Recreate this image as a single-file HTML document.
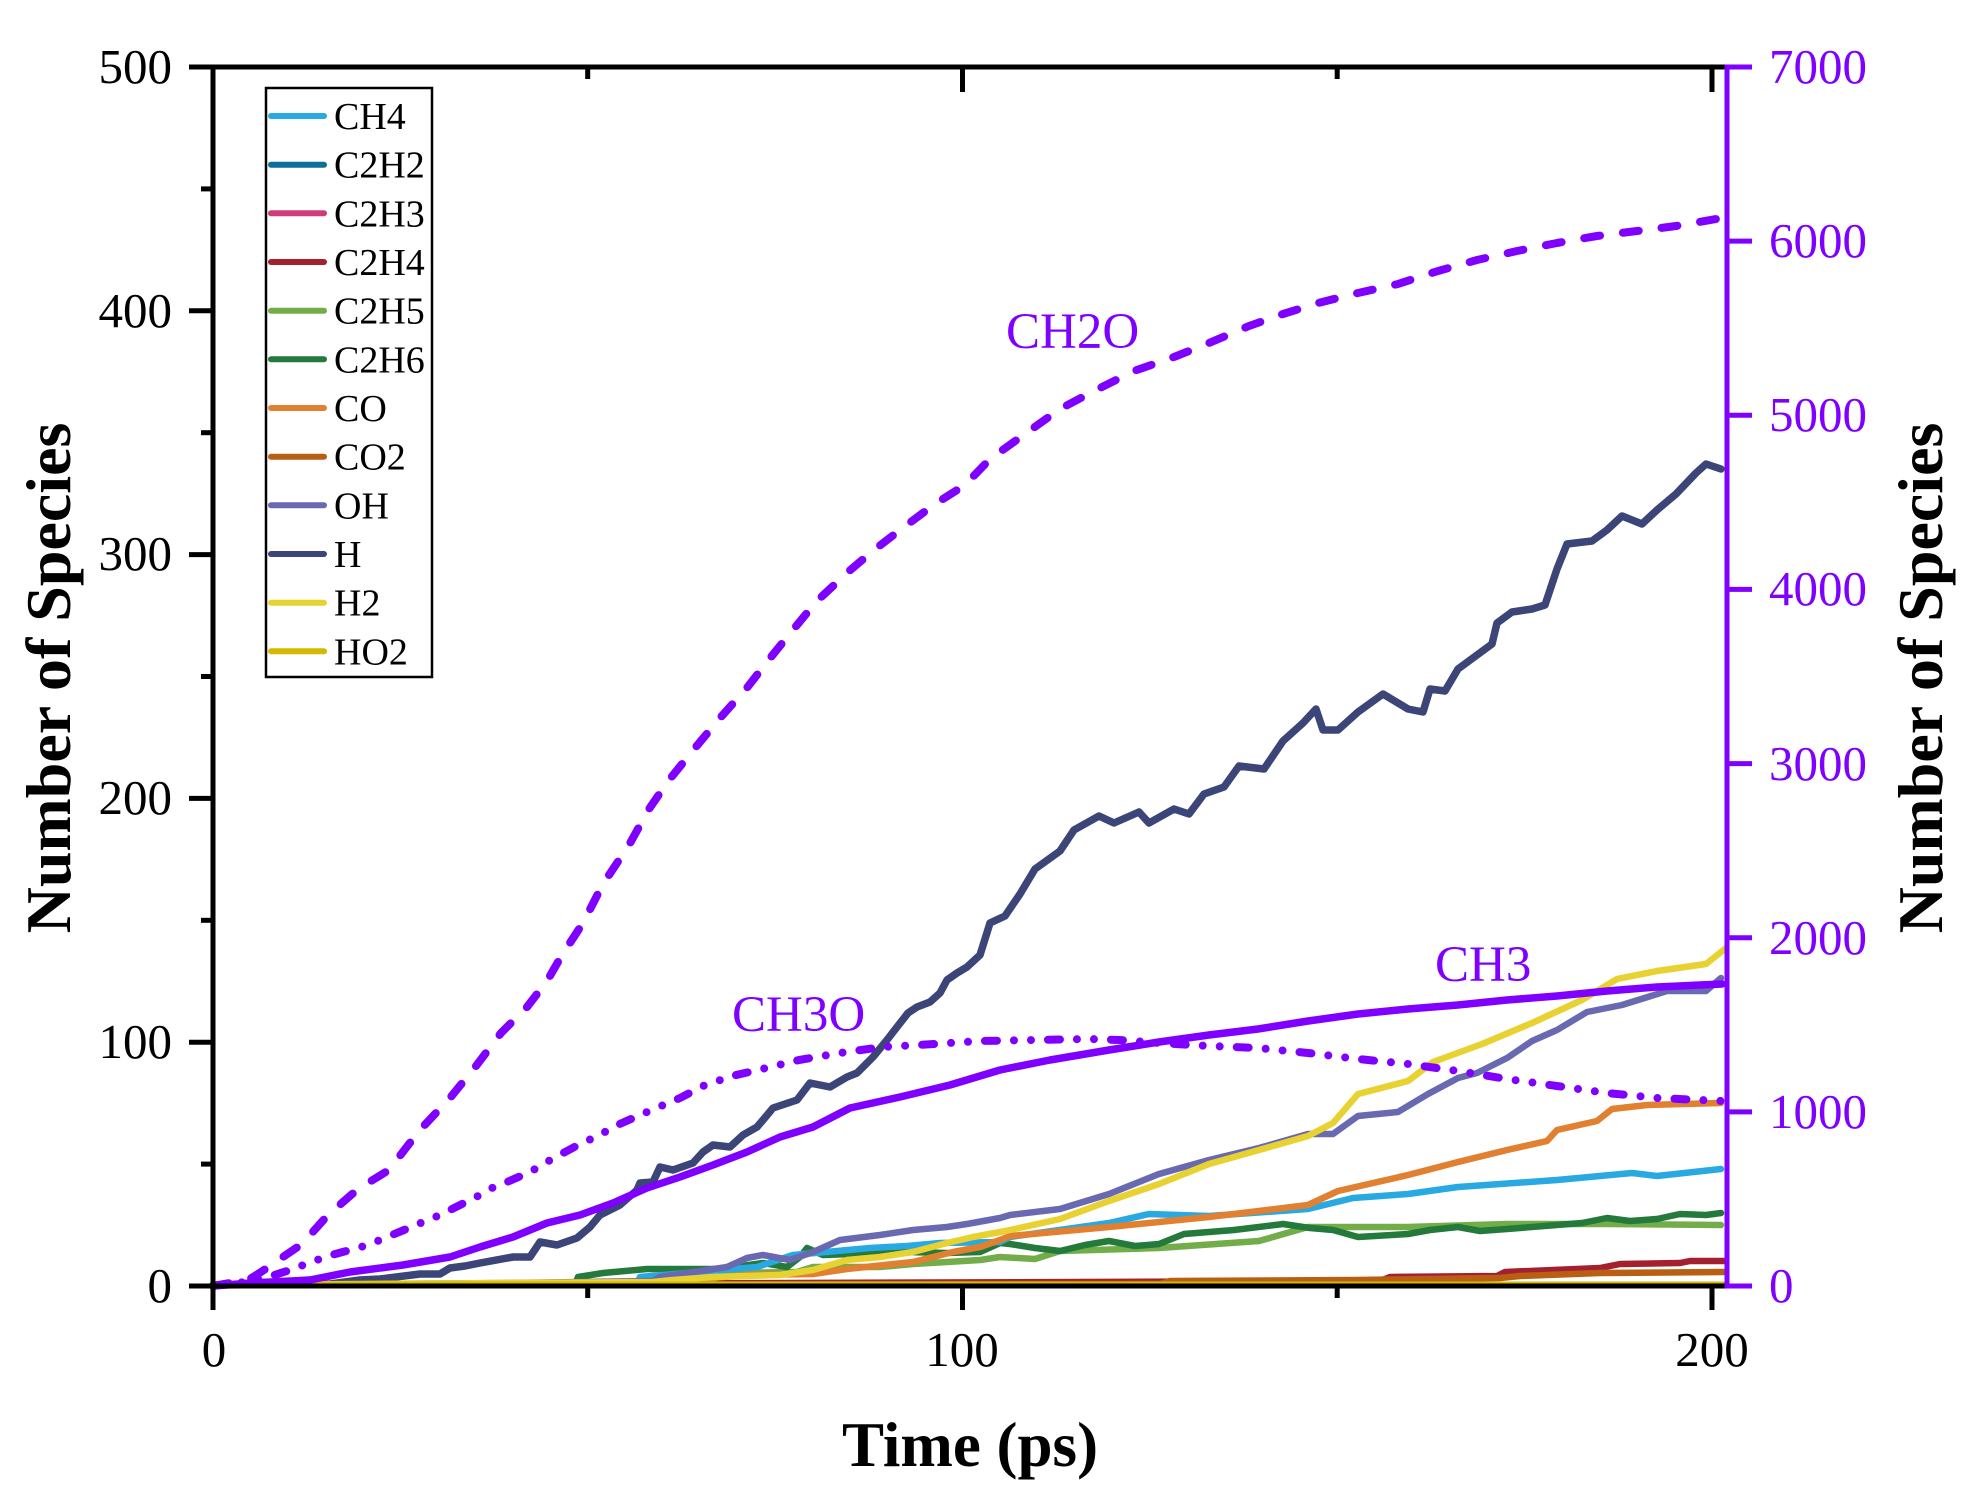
<!DOCTYPE html>
<html>
<head>
<meta charset="utf-8">
<style>
  html, body { margin: 0; padding: 0; background: #ffffff; }
  svg { display: block; }
  text { font-family: "Liberation Serif", "Times New Roman", serif; }
</style>
</head>
<body>
<svg width="1979" height="1501" viewBox="0 0 1979 1501" xmlns="http://www.w3.org/2000/svg">
  <rect x="0" y="0" width="1979" height="1501" fill="#ffffff"/>

  <!-- ===== Data series (left axis) ===== -->
  <g fill="none" stroke-linejoin="round" stroke-linecap="round" stroke-width="6.5">
    <polyline stroke="#0C6F98" points="213,1285 1725,1285"/>
    <polyline stroke="#D03C7A" points="213,1285 1725,1285"/>
    <!-- C2H4 -->
    <polyline stroke="#A5202F" points="213,1285 790,1283 1380,1281 1390,1277 1497,1276 1505,1272 1600,1268 1620,1264 1680,1263 1690,1261 1725,1261"/>
    <!-- CO2 -->
    <polyline stroke="#B85F14" points="213,1285 1160,1284 1170,1281 1358,1280 1500,1278 1520,1276 1600,1273 1725,1272"/>
    <!-- C2H5 -->
    <polyline stroke="#72AD4A" points="213,1285 700,1285 727,1273 797,1272 813,1267 880,1267 913,1264 947,1262 980,1260 1000,1257 1035,1259 1060,1251 1159,1248 1259,1241 1308,1227 1408,1227 1507,1224 1607,1224 1721,1225"/>
    <!-- C2H6 -->
    <polyline stroke="#237A3B" points="213,1285 575,1285 578,1277 603,1273 647,1269 720,1269 763,1263 787,1267 800,1257 807,1248 823,1255 880,1253 907,1252 947,1253 980,1252 1000,1243 1010,1244 1035,1248 1060,1251 1085,1245 1109,1241 1135,1246 1159,1244 1184,1234 1234,1230 1283,1224 1310,1228 1333,1230 1358,1237 1408,1234 1430,1230 1458,1227 1480,1231 1507,1229 1582,1223 1607,1218 1630,1221 1657,1219 1680,1214 1706,1215 1721,1213"/>
    <!-- CH4 -->
    <polyline stroke="#29A9E1" points="213,1285 637,1284 640,1277 757,1267 793,1255 870,1248 907,1246 940,1243 1000,1242 1010,1237 1109,1223 1149,1214 1209,1216 1308,1209 1353,1198 1408,1194 1458,1187 1557,1180 1632,1173 1657,1176 1721,1169"/>
    <!-- CO -->
    <polyline stroke="#E08030" points="213,1285 653,1283 747,1275 813,1274 847,1269 913,1262 953,1252 980,1247 1000,1240 1010,1236 1109,1227 1209,1217 1308,1205 1338,1191 1408,1175 1458,1162 1507,1150 1547,1141 1557,1130 1597,1121 1612,1109 1647,1105 1721,1103"/>
    <!-- OH -->
    <polyline stroke="#6869B0" points="213,1285 507,1283 653,1281 660,1277 727,1267 747,1258 763,1255 790,1260 813,1252 840,1240 880,1235 913,1230 947,1227 967,1224 1000,1218 1010,1215 1060,1209 1109,1194 1159,1174 1209,1160 1259,1148 1308,1134 1333,1134 1358,1116 1398,1112 1428,1094 1458,1078 1477,1073 1507,1058 1532,1041 1557,1030 1587,1012 1622,1005 1667,991 1706,991 1721,978"/>
    <!-- H -->
    <polyline stroke="#3B4577" stroke-width="7.5" points="213,1285 330,1284 360,1280 380,1279 420,1274 440,1274 450,1268 465,1266 480,1263 513,1257 530,1257 540,1242 557,1245 577,1238 590,1227 600,1215 620,1205 637,1190 640,1183 653,1182 660,1167 673,1170 693,1163 703,1152 713,1145 730,1147 743,1135 757,1127 763,1120 773,1108 797,1100 810,1083 830,1087 847,1077 857,1073 873,1057 887,1040 897,1027 908,1013 917,1007 930,1002 940,993 947,980 957,973 967,967 980,955 990,923 1005,916 1020,894 1035,869 1060,851 1074,830 1099,816 1114,823 1139,812 1149,823 1174,809 1189,814 1204,794 1224,787 1239,766 1264,769 1283,741 1303,723 1316,709 1323,730 1338,730 1358,712 1383,694 1408,709 1423,712 1430,689 1445,691 1458,669 1477,655 1492,644 1497,623 1512,612 1532,609 1545,605 1557,569 1567,544 1592,541 1607,530 1622,516 1642,524 1657,510 1676,494 1696,473 1706,464 1721,469"/>
    <!-- H2 -->
    <polyline stroke="#E8D231" points="213,1285 653,1282 673,1280 713,1277 780,1275 813,1270 847,1260 880,1257 913,1252 947,1243 973,1237 1000,1232 1010,1230 1060,1219 1109,1201 1159,1184 1209,1164 1259,1150 1308,1136 1333,1123 1358,1094 1408,1081 1433,1062 1482,1044 1532,1023 1582,1000 1617,979 1657,971 1706,964 1726,948"/>
    <!-- HO2 -->
    <polyline stroke="#D4B900" stroke-width="3" points="213,1283 1725,1283"/>
  </g>

  <!-- ===== Data series (right axis, purple) ===== -->
  <g fill="none" stroke="#7F00FF" stroke-linejoin="round" stroke-linecap="round" stroke-width="8">
    <!-- CH2O dashed -->
    <polyline stroke-dasharray="16 23" points="213,1286 230,1283 250,1279 261,1272 302,1244 328,1215 358,1189 389,1170 419,1131 450,1098 476,1066 501,1033 527,1007 547,981 562,955 583,923 603,884 629,845 649,809 669,780 695,748 720,718 746,689 771,657 792,631 817,601 848,572 874,550 904,527 935,504 965,485 990,459 1025,434 1060,409 1094,391 1134,371 1174,357 1209,343 1249,326 1283,314 1318,303 1358,293 1398,284 1438,271 1477,260 1517,251 1557,243 1597,236 1637,231 1676,226 1722,218"/>
    <!-- CH3O dash-dot-dot -->
    <polyline stroke-dasharray="12 17 0 17 0 17" points="213,1286 232,1283 248,1282 265,1278 287,1271 328,1256 368,1245 404,1230 440,1215 480,1195 492,1188 507,1182 530,1172 552,1159 567,1151 580,1144 600,1135 613,1127 640,1115 680,1098 703,1086 732,1076 762,1069 799,1060 840,1053 882,1047 935,1044 980,1041 1035,1040 1088,1039 1120,1040 1159,1043 1209,1046 1258,1048 1308,1053 1358,1059 1408,1064 1458,1071 1507,1079 1557,1086 1607,1093 1657,1098 1722,1101"/>
    <!-- CH3 solid -->
    <polyline stroke-width="7.5" points="213,1286 251,1283 310,1280 350,1272 403,1265 450,1257 480,1247 513,1237 547,1223 580,1215 613,1203 647,1188 680,1177 713,1165 747,1152 780,1137 813,1127 850,1108 900,1097 950,1085 1000,1070 1050,1060 1109,1050 1159,1042 1209,1035 1258,1029 1308,1021 1358,1014 1408,1009 1458,1005 1507,1000 1557,996 1607,991 1657,987 1722,984"/>
  </g>

  <!-- ===== Axes ===== -->
  <g stroke="#000000" stroke-width="5" fill="none">
    <line x1="213" y1="65" x2="213" y2="1310"/>
    <line x1="189" y1="67" x2="1725" y2="67"/>
    <line x1="189" y1="1286" x2="1725" y2="1286"/>
    <line x1="189" y1="1042.2" x2="213" y2="1042.2"/>
    <line x1="189" y1="798.4" x2="213" y2="798.4"/>
    <line x1="189" y1="554.6" x2="213" y2="554.6"/>
    <line x1="189" y1="310.8" x2="213" y2="310.8"/>
    <line x1="201" y1="1164.1" x2="213" y2="1164.1"/>
    <line x1="201" y1="920.3" x2="213" y2="920.3"/>
    <line x1="201" y1="676.5" x2="213" y2="676.5"/>
    <line x1="201" y1="432.7" x2="213" y2="432.7"/>
    <line x1="201" y1="188.9" x2="213" y2="188.9"/>
    <line x1="962.5" y1="1286" x2="962.5" y2="1310"/>
    <line x1="1712" y1="1286" x2="1712" y2="1310"/>
    <line x1="587.7" y1="1286" x2="587.7" y2="1298"/>
    <line x1="1337.2" y1="1286" x2="1337.2" y2="1298"/>
    <line x1="962.5" y1="67" x2="962.5" y2="92"/>
    <line x1="1712" y1="67" x2="1712" y2="92"/>
    <line x1="587.7" y1="67" x2="587.7" y2="79"/>
    <line x1="1337.2" y1="67" x2="1337.2" y2="79"/>
  </g>

  <g stroke="#7F00FF" stroke-width="5" fill="none">
    <line x1="1727" y1="65" x2="1727" y2="1288"/>
    <line x1="1725" y1="1286" x2="1752" y2="1286"/>
    <line x1="1727" y1="1111.9" x2="1752" y2="1111.9"/>
    <line x1="1727" y1="937.7" x2="1752" y2="937.7"/>
    <line x1="1727" y1="763.6" x2="1752" y2="763.6"/>
    <line x1="1727" y1="589.4" x2="1752" y2="589.4"/>
    <line x1="1727" y1="415.3" x2="1752" y2="415.3"/>
    <line x1="1727" y1="241.1" x2="1752" y2="241.1"/>
    <line x1="1725" y1="67" x2="1752" y2="67"/>
  </g>

  <g font-size="49" fill="#000000" text-anchor="end">
    <text x="172" y="1302">0</text>
    <text x="172" y="1058">100</text>
    <text x="172" y="814">200</text>
    <text x="172" y="570">300</text>
    <text x="172" y="327">400</text>
    <text x="172" y="83">500</text>
  </g>
  <g font-size="49" fill="#000000" text-anchor="middle">
    <text x="214" y="1366">0</text>
    <text x="962" y="1366">100</text>
    <text x="1712" y="1366">200</text>
  </g>
  <g font-size="49" fill="#7F00FF" text-anchor="start">
    <text x="1769" y="1302">0</text>
    <text x="1769" y="1128">1000</text>
    <text x="1769" y="954">2000</text>
    <text x="1769" y="780">3000</text>
    <text x="1769" y="605">4000</text>
    <text x="1769" y="431">5000</text>
    <text x="1769" y="257">6000</text>
    <text x="1769" y="83">7000</text>
  </g>

  <text x="970" y="1466" font-size="63" font-weight="bold" text-anchor="middle" fill="#000000">Time (ps)</text>
  <text transform="translate(70,678) rotate(-90)" font-size="64" font-weight="bold" text-anchor="middle" fill="#000000">Number of Species</text>
  <text transform="translate(1942,678) rotate(-90)" font-size="64" font-weight="bold" text-anchor="middle" fill="#000000">Number of Species</text>

  <g font-size="51" fill="#7F00FF">
    <text x="1006" y="348">CH2O</text>
    <text x="732" y="1031">CH3O</text>
    <text x="1435" y="981">CH3</text>
  </g>

  <rect x="266" y="88" width="166" height="589" fill="#ffffff" stroke="#000000" stroke-width="2.5"/>
  <g stroke-width="6" stroke-linecap="round" fill="none">
    <line x1="271" y1="116" x2="324" y2="116" stroke="#29A9E1"/>
    <line x1="271" y1="164.7" x2="324" y2="164.7" stroke="#0C6F98"/>
    <line x1="271" y1="213.3" x2="324" y2="213.3" stroke="#D03C7A"/>
    <line x1="271" y1="262" x2="324" y2="262" stroke="#A5202F"/>
    <line x1="271" y1="310.7" x2="324" y2="310.7" stroke="#72AD4A"/>
    <line x1="271" y1="359.3" x2="324" y2="359.3" stroke="#237A3B"/>
    <line x1="271" y1="408" x2="324" y2="408" stroke="#E08030"/>
    <line x1="271" y1="456.7" x2="324" y2="456.7" stroke="#B85F14"/>
    <line x1="271" y1="505.3" x2="324" y2="505.3" stroke="#6869B0"/>
    <line x1="271" y1="554" x2="324" y2="554" stroke="#3B4577"/>
    <line x1="271" y1="602.7" x2="324" y2="602.7" stroke="#E8D231"/>
    <line x1="271" y1="651.3" x2="324" y2="651.3" stroke="#D4B900"/>
  </g>
  <g font-size="38" fill="#000000">
    <text x="334" y="129">CH4</text>
    <text x="334" y="177.7">C2H2</text>
    <text x="334" y="226.3">C2H3</text>
    <text x="334" y="275">C2H4</text>
    <text x="334" y="323.7">C2H5</text>
    <text x="334" y="372.3">C2H6</text>
    <text x="334" y="421">CO</text>
    <text x="334" y="469.7">CO2</text>
    <text x="334" y="518.3">OH</text>
    <text x="334" y="567">H</text>
    <text x="334" y="615.7">H2</text>
    <text x="334" y="664.3">HO2</text>
  </g>
</svg>
</body>
</html>
